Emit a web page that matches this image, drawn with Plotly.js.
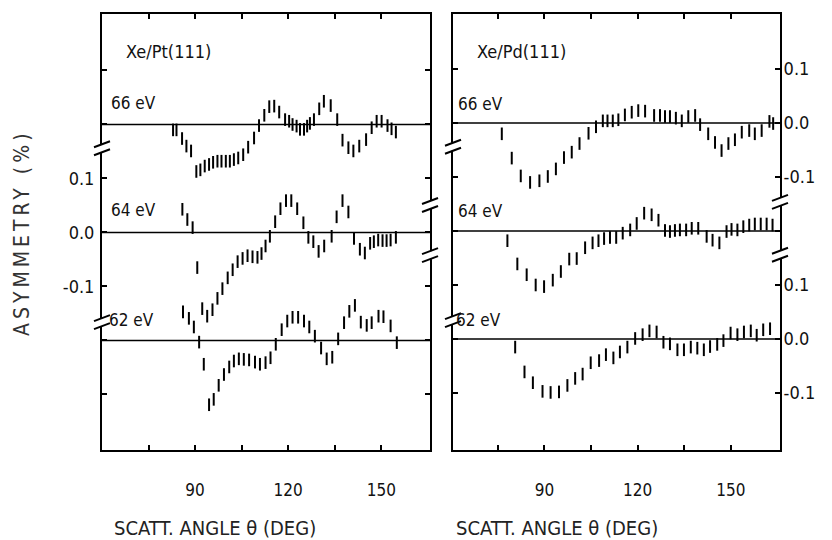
<!DOCTYPE html>
<html>
<head>
<meta charset="utf-8">
<script src="https://cdn.plot.ly/plotly-3.0.1.min.js"></script>
<style>html,body{margin:0;padding:0;background:#fff;}#chart{width:832px;height:540px;}</style>
</head>
<body>
<div id="chart"></div>
<script>
// ---- Xe/Pt(111) ----
var ptAngle66 = [82.9,84.0,85.8,87.2,88.7,90.4,91.7,93.1,94.5,95.8,97.2,98.5,99.9,101.2,102.5,103.9,105.5,107.1,109.0,110.6,112.3,113.9,115.5,117.1,119.0,120.3,121.4,122.7,123.8,125.1,126.1,127.0,128.3,130.0,131.5,133.7,135.8,137.5,139.4,141.0,142.9,145.1,146.9,148.5,150.1,152.0,153.3,154.7];
var ptAsym66  = [-0.010,-0.010,-0.026,-0.040,-0.049,-0.087,-0.084,-0.077,-0.074,-0.070,-0.068,-0.068,-0.068,-0.068,-0.065,-0.062,-0.056,-0.042,-0.025,-0.002,0.017,0.033,0.034,0.023,0.009,0.006,0.000,-0.003,-0.009,-0.009,-0.003,0.002,0.009,0.029,0.043,0.035,0.009,-0.029,-0.043,-0.049,-0.040,-0.028,-0.006,0.006,0.006,-0.002,-0.008,-0.014];

var ptAngle64 = [85.9,87.5,89.2,90.7,92.3,93.9,95.6,97.2,98.8,100.5,102.1,103.7,105.3,106.9,108.5,110.1,111.4,112.7,114.1,115.8,117.5,119.3,121.0,122.9,124.9,126.5,128.1,129.8,131.6,134.0,135.6,137.5,139.4,141.2,143.1,144.7,146.4,147.6,149.0,150.4,151.7,153.0,154.7];
var ptAsym64  = [0.043,0.024,0.009,-0.065,-0.141,-0.155,-0.143,-0.122,-0.104,-0.084,-0.069,-0.054,-0.048,-0.043,-0.045,-0.046,-0.039,-0.025,-0.007,0.020,0.044,0.059,0.059,0.044,0.018,-0.009,-0.017,-0.035,-0.025,-0.007,0.029,0.059,0.038,-0.011,-0.031,-0.038,-0.020,-0.017,-0.014,-0.015,-0.015,-0.014,-0.009];

var ptAngle62 = [86.1,88.0,89.6,91.3,92.8,94.5,96.0,97.6,99.3,101.0,102.5,104.1,105.7,107.4,109.3,110.9,112.7,114.3,116.0,117.9,119.7,121.4,123.2,125.1,126.8,128.6,130.6,132.4,134.2,136.1,138.0,139.7,141.5,143.4,145.3,146.9,149.1,150.7,153.0,155.0];
var ptAsym62  = [0.053,0.041,0.025,-0.003,-0.044,-0.119,-0.109,-0.083,-0.063,-0.049,-0.038,-0.034,-0.035,-0.036,-0.040,-0.044,-0.041,-0.032,-0.007,0.020,0.036,0.043,0.043,0.036,0.025,0.008,-0.014,-0.034,-0.031,0.003,0.033,0.054,0.065,0.034,0.028,0.033,0.045,0.044,0.027,-0.004];

// ---- Xe/Pd(111) ----
var pdAngle66 = [76.3,79.5,82.4,85.4,88.4,91.1,93.7,96.3,98.8,101.3,104.2,106.6,108.8,110.3,112.0,113.8,115.9,118.1,120.2,122.4,125.3,127.2,128.8,130.4,132.3,134.2,136.3,138.5,140.1,142.7,144.9,147.0,149.2,151.3,153.5,155.9,157.7,159.9,162.4,163.6];
var pdAsym66  = [-0.020,-0.065,-0.098,-0.110,-0.107,-0.099,-0.085,-0.064,-0.054,-0.038,-0.019,-0.007,0.004,0.004,0.004,0.006,0.015,0.020,0.023,0.022,0.014,0.014,0.012,0.012,0.009,0.004,0.012,0.014,-0.003,-0.020,-0.036,-0.051,-0.038,-0.031,-0.017,-0.014,-0.020,-0.014,0.003,-0.001];

var pdAngle64 = [78.1,81.3,84.3,87.2,89.9,92.7,95.3,98.0,100.4,103.1,105.5,107.4,109.2,111.1,113.1,115.2,117.6,119.7,122.1,124.5,126.7,128.8,130.4,132.0,133.6,135.6,137.4,139.5,142.2,144.1,146.3,148.6,150.2,152.1,154.0,155.9,157.7,159.6,161.5,163.4];
var pdAsym64  = [-0.018,-0.061,-0.081,-0.100,-0.103,-0.091,-0.075,-0.052,-0.051,-0.031,-0.022,-0.018,-0.014,-0.012,-0.012,-0.004,0.002,0.014,0.033,0.030,0.020,0.001,-0.001,0.001,0.002,0.002,0.005,0.005,-0.010,-0.017,-0.022,-0.001,0.003,0.002,0.008,0.011,0.013,0.013,0.013,0.011];

var pdAngle62 = [80.6,83.6,86.3,89.4,92.0,94.7,97.4,99.9,102.3,104.9,107.6,109.8,112.2,114.3,116.7,119.2,121.6,123.8,126.1,128.3,130.4,132.8,134.9,137.1,139.2,141.3,143.3,145.6,147.6,149.9,152.1,154.2,156.4,158.3,160.4,162.6];
var pdAsym62  = [-0.015,-0.061,-0.081,-0.097,-0.099,-0.098,-0.086,-0.073,-0.065,-0.044,-0.040,-0.029,-0.035,-0.024,-0.015,0.001,0.008,0.015,0.013,-0.006,-0.009,-0.020,-0.020,-0.015,-0.017,-0.020,-0.014,-0.010,-0.003,0.011,0.008,0.013,0.015,0.007,0.017,0.019];

// vertical offsets used to stack the three energies
var energies = ["66 eV", "64 eV", "62 eV"];
var offsets = [0.2, 0.0, -0.2];

var xTickVals = [75, 90, 105, 120, 135, 150];
var xTickText = ["", "90", "", "120", "", "150"];
var yTickVals = [-0.3, -0.2, -0.1, 0, 0.1, 0.2, 0.3];
var yTickTextLeft  = ["", "", "-0.1", "0.0", "0.1", "", ""];
var yTickTextRight = ["-0.1", "0.0", "0.1", "", "-0.1", "0.0", "0.1"];

var FONT = "DejaVu Sans Condensed, DejaVu Sans, sans-serif";

function series(xs, ys, off, xa, ya) {
  return {
    x: xs, y: ys.map(function (v) { return v + off; }),
    xaxis: xa, yaxis: ya, type: "scatter", mode: "markers",
    marker: {symbol: "line-ns-open", size: 9, color: "#000", line: {color: "#000", width: 2}},
    hoverinfo: "x+y", showlegend: false
  };
}

var data = [
  series(ptAngle66, ptAsym66, offsets[0], "x", "y"),
  series(ptAngle64, ptAsym64, offsets[1], "x", "y"),
  series(ptAngle62, ptAsym62, offsets[2], "x", "y"),
  series(pdAngle66, pdAsym66, offsets[0], "x2", "y2"),
  series(pdAngle64, pdAsym64, offsets[1], "x2", "y2"),
  series(pdAngle62, pdAsym62, offsets[2], "x2", "y2")
];

var shapes = [];
// zero lines for each energy in both panels
["x", "x2"].forEach(function (xa, i) {
  var ya = i === 0 ? "y" : "y2";
  offsets.forEach(function (off) {
    shapes.push({type: "line", xref: xa + " domain", yref: ya, x0: 0, x1: 1, y0: off, y1: off,
      line: {color: "#000", width: 1.6}, layer: "above"});
  });
});

// axis-break marks
function addBreak(xa, side, ya, yv) {
  var base = {xref: xa + " domain", yref: ya, xsizemode: "pixel", ysizemode: "pixel",
              xanchor: side, yanchor: yv, type: "line", layer: "above"};
  shapes.push(Object.assign({}, base, {x0: 0, x1: 0, y0: -4, y1: 4, line: {color: "#fff", width: 6}}));
  [-4, 4].forEach(function (d) {
    shapes.push(Object.assign({}, base, {x0: -8, x1: 8, y0: d - 3, y1: d + 3, line: {color: "#000", width: 2}}));
  });
}
addBreak("x", 0, "y", 0.156);
addBreak("x", 0, "y", -0.166);
addBreak("x", 1, "y", 0.051);
addBreak("x", 1, "y", -0.042);
addBreak("x2", 0, "y2", 0.156);
addBreak("x2", 0, "y2", -0.165);
addBreak("x2", 1, "y2", 0.054);
addBreak("x2", 1, "y2", -0.044);

function ann(text, x, y, size, extra) {
  return Object.assign({text: text, xref: "paper", yref: "paper", x: x, y: y,
    xanchor: "left", yanchor: "middle", showarrow: false,
    font: {family: FONT, size: size, color: "#111"}}, extra || {});
}

var annotations = [
  ann("Xe/Pt(111)", 0.032, 0.915, 18),
  ann("Xe/Pd(111)", 0.550, 0.915, 18),
  ann(energies[0], 0.010, 0.796, 17),
  ann(energies[0], 0.522, 0.794, 17),
  ann(energies[1], 0.011, 0.551, 17),
  ann(energies[1], 0.522, 0.548, 17),
  ann(energies[2], 0.007, 0.298, 17),
  ann(energies[2], 0.519, 0.298, 17),
  ann("ASYMMETRY (%)", -0.118, 0.5, 21, {xanchor: "center", textangle: -90, font: {family: FONT, size: 21, color: "#333"}}),
  ann("SCATT. ANGLE θ (DEG)", 0.1667, -0.179, 20, {xanchor: "center", font: {family: FONT, size: 20, color: "#222"}}),
  ann("SCATT. ANGLE θ (DEG)", 0.6711, -0.179, 20, {xanchor: "center", font: {family: FONT, size: 20, color: "#222"}})
];

function xAxis(dom, range) {
  return {domain: dom, range: range, tickvals: xTickVals, ticktext: xTickText,
    ticks: "inside", ticklen: 5, tickwidth: 2, tickcolor: "#000",
    showline: true, linewidth: 2, linecolor: "#000", mirror: "allticks",
    showgrid: false, zeroline: false, ticklabelstandoff: 24,
    tickfont: {family: FONT, size: 17, color: "#111"}};
}
function yAxis(anchor, range, text, side, standoff) {
  return {anchor: anchor, domain: [0, 1], range: range, tickvals: yTickVals, ticktext: text,
    side: side, ticks: "inside", ticklen: 5, tickwidth: 2, tickcolor: "#000",
    showline: true, linewidth: 2, linecolor: "#000", mirror: "allticks",
    showgrid: false, zeroline: false, ticklabelstandoff: standoff,
    tickfont: {family: FONT, size: 18, color: "#111"}};
}

var layout = {
  width: 832, height: 540,
  margin: {l: 102, r: 52, t: 14, b: 90},
  paper_bgcolor: "#fff", plot_bgcolor: "#fff",
  showlegend: false,
  xaxis: xAxis([0, 0.4838], [60.0, 165.7]),
  xaxis2: Object.assign(xAxis([0.5177, 1], [60.6, 165.8]), {anchor: "y2"}),
  yaxis: yAxis("x", [-0.4028, 0.4046], yTickTextLeft, "left", 2),
  yaxis2: yAxis("x2", [-0.4056, 0.4019], yTickTextRight, "right", -2),
  shapes: shapes,
  annotations: annotations
};
layout.xaxis.anchor = "y";

Plotly.newPlot("chart", data, layout, {staticPlot: true, displayModeBar: false}).then(function () {
  // widen the letter spacing of the vertical axis title, as in the original lettering
  document.querySelectorAll("#chart .annotation-text").forEach(function (t) {
    if (t.textContent === "ASYMMETRY (%)") { t.style.letterSpacing = "4px"; }
  });
});
</script>
</body>
</html>
